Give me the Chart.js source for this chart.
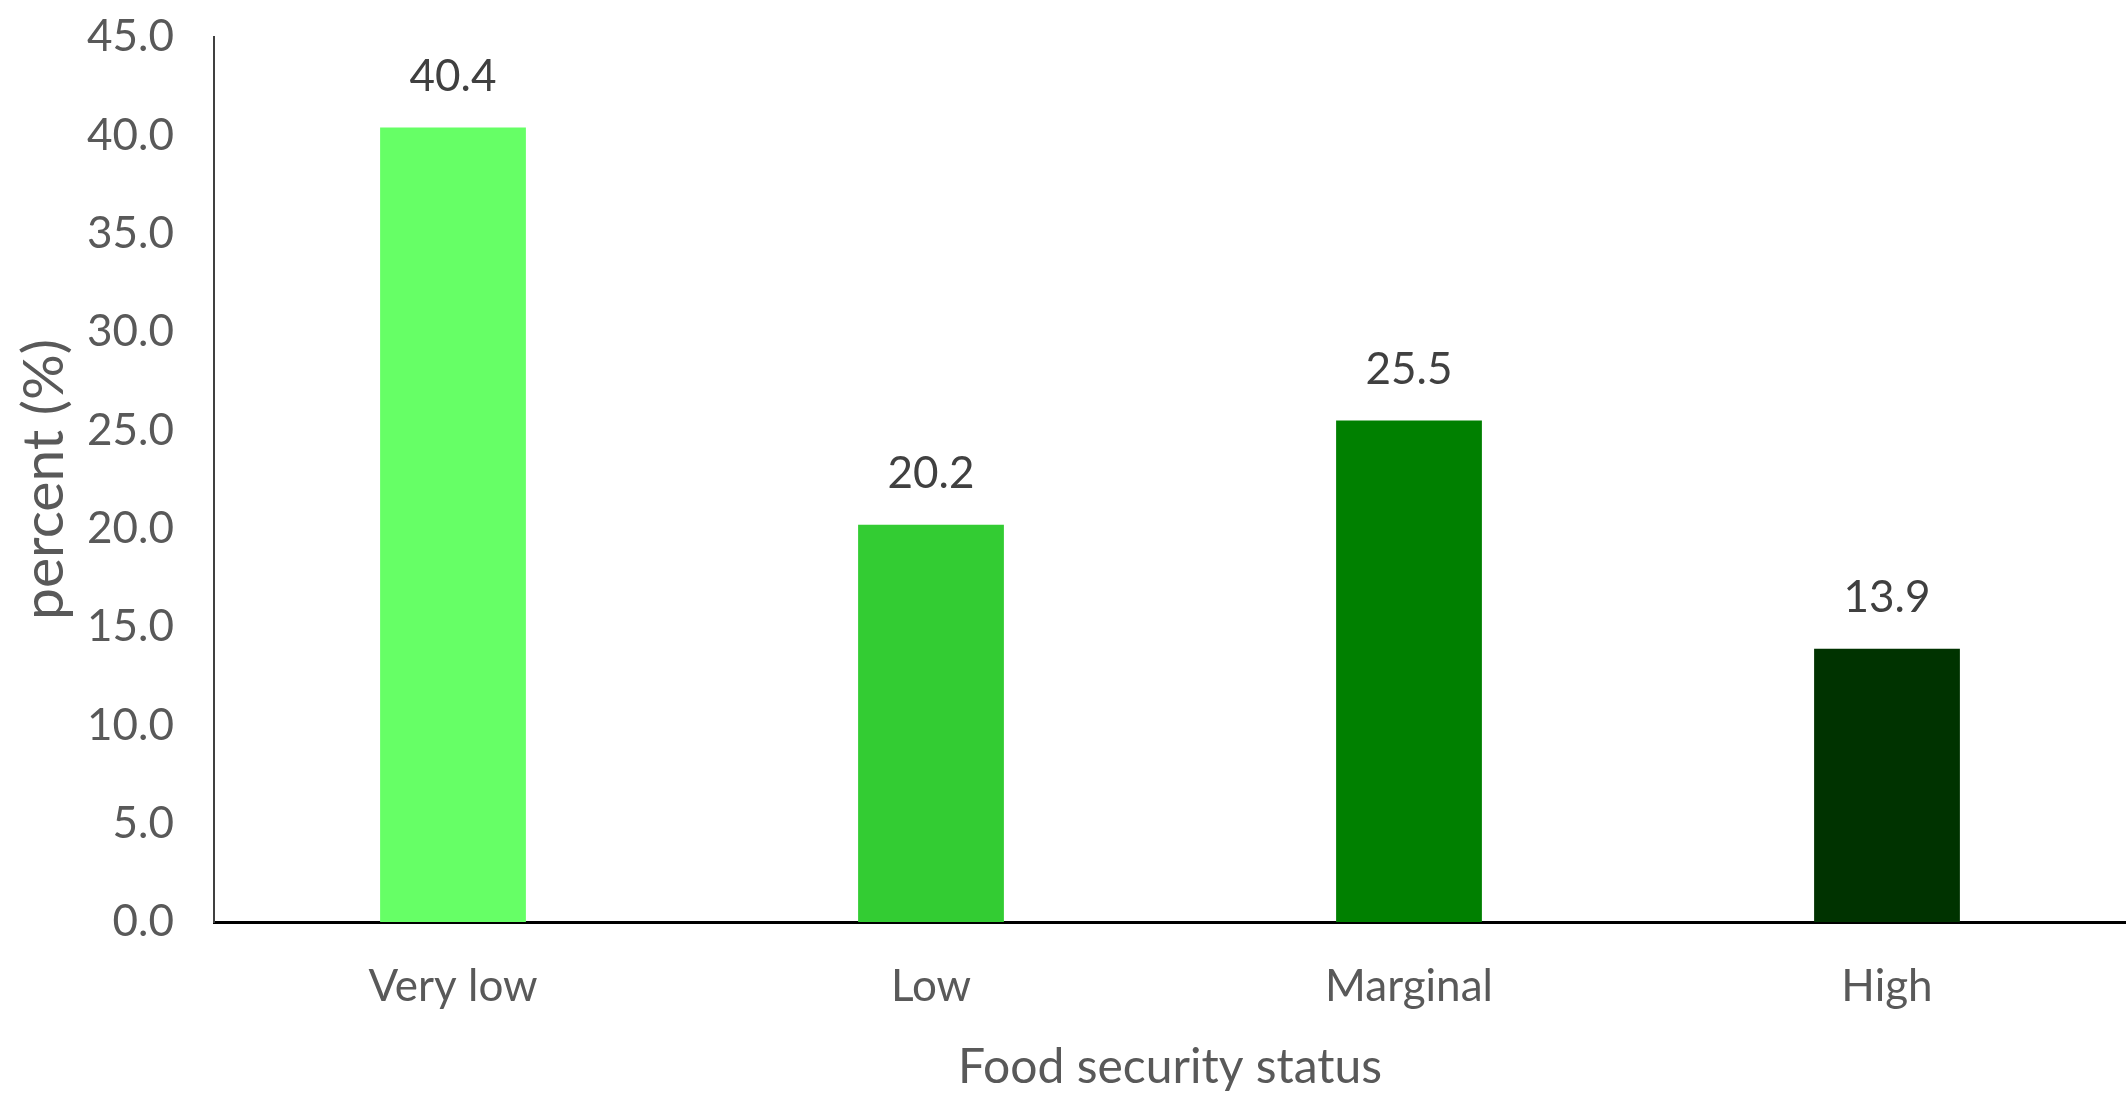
<!DOCTYPE html>
<html>
<head>
<meta charset="utf-8">
<script src="https://cdn.jsdelivr.net/npm/chart.js@4/dist/chart.umd.min.js"></script>
<style>
  html, body { margin: 0; padding: 0; background: #fff; }
  #wrap { width: 2126px; height: 1096px; }
</style>
</head>
<body>
<div id="wrap"><canvas id="myChart" width="2126" height="1096"></canvas></div>
<script>
var categories = ['Very low', 'Low', 'Marginal', 'High'];	// food security status
var percents = [40.4, 20.2, 25.5, 13.9];	// percent (%)
var barColors = ['#66FF66', '#33CC33', '#008000', '#003300'];
var yTicks = [0, 5, 10, 15, 20, 25, 30, 35, 40, 45];

var textColor = '#595959';
var fontFam = 'Lato, "Open Sans", sans-serif';

/* bar value labels */
var valueLabels = {
	id: 'valueLabels',
	afterDatasetsDraw: function(chart) {
		var ctx = chart.ctx;
		var meta = chart.getDatasetMeta(0);
		ctx.save();
		ctx.font = '44px ' + fontFam;
		ctx.fillStyle = '#404040';
		ctx.textAlign = 'center';
		ctx.textBaseline = 'middle';
		meta.data.forEach(function(bar, i) {
			ctx.fillText(percents[i].toFixed(1), bar.x, bar.y - 51);
		});
		ctx.restore();
	}
};

var ctx = document.getElementById('myChart').getContext('2d');
var myChart = new Chart(ctx, {
	type: 'bar',
	data: {
		labels: categories,
		datasets: [{
			data: percents,
			backgroundColor: barColors,
			borderWidth: 0,
			categoryPercentage: 1.0,
			barPercentage: 0.305
		}]
	},
	options: {
		responsive: false,
		animation: false,
		layout: { padding: { top: 37, right: 0, left: 0, bottom: 0 } },
		plugins: {
			legend: { display: false },
			tooltip: { enabled: false }
		},
		scales: {
			x: {
				afterFit: function(scale) { scale.height = 174; },
				grid: { display: false, drawTicks: false },
				border: { display: true, color: '#000000', width: 3 },
				ticks: { color: textColor, font: { family: fontFam, size: 44 }, padding: 38 },
				title: {
					display: true,
					text: 'Food security status',
					color: textColor,
					font: { family: fontFam, size: 48 },
					padding: { top: 0, bottom: 0 }
				}
			},
			y: {
				min: 0,
				max: 45,
				afterBuildTicks: function(scale) {
					scale.ticks = yTicks.map(function(v) { return { value: v }; });
				},
				afterFit: function(scale) {
					scale.width = 214;
					scale.paddingTop = 0;
					scale.paddingBottom = 0;
				},
				grid: { display: false, drawTicks: false },
				border: { display: true, color: '#404040', width: 2 },
				ticks: {
					color: textColor,
					font: { family: fontFam, size: 44 },
					padding: 40,
					callback: function(v) { return Number(v).toFixed(1); }
				},
				title: {
					display: true,
					text: 'percent (%)',
					color: textColor,
					font: { family: fontFam, size: 57 },
					padding: { top: 10, bottom: 10 }
				}
			}
		}
	},
	plugins: [valueLabels]
});
</script>
</body>
</html>
